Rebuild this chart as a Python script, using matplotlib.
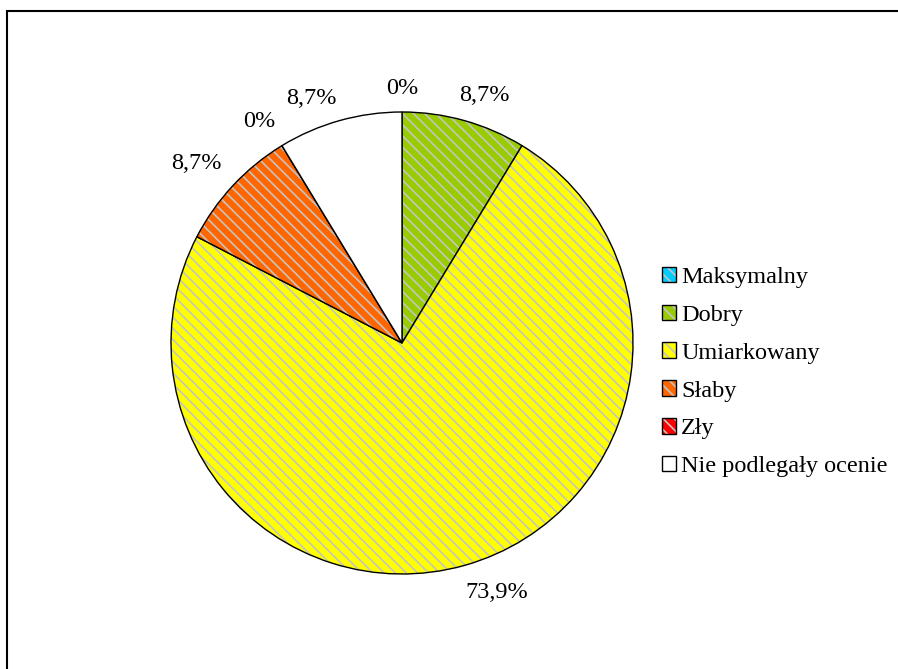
import matplotlib.pyplot as plt
from matplotlib.patches import Rectangle
import matplotlib.colors as mcolors
import numpy as np

plt.rcParams['font.family'] = ['Liberation Serif', 'DejaVu Serif']
plt.rcParams['hatch.linewidth'] = 1.2

#%% Dane
kategorie = ['Maksymalny', 'Dobry', 'Umiarkowany', 'Słaby', 'Zły', 'Nie podlegały ocenie']
liczby = [0, 2, 17, 2, 0, 2]
etykiety = ['0%', '8,7%', '73,9%', '8,7%', '0%', '8,7%']
kolory = ['#00CCFF', '#99CC00', '#FFFF00', '#FF6600', '#FF0000', '#FFFFFF']
kreskowanie = [True, True, True, True, True, False]

# pozycje etykiet (kat w stopniach, odleglosc w promieniach)
pos_etykiet = [(90, 1.10), (71.5, 1.13), (-69.2, 1.156), (138.9, 1.18), (122.9, 1.14), (110.3, 1.13)]

#%% Wykres
fig = plt.figure(figsize=(8.98, 6.69), dpi=100)
W, H = 898, 669
cx, cy, r = 402, 343, 231
ax = fig.add_axes([(cx - r) / W, (H - cy - r) / H, 2 * r / W, 2 * r / H])

wedges, _ = ax.pie(liczby, colors=kolory, startangle=90, counterclock=False,
                   radius=1, wedgeprops=dict(edgecolor='black', linewidth=1.0))
for w, h in zip(wedges, kreskowanie):
    if h:
        w.set_hatch('\\' * 3)
        w._hatch_color = mcolors.to_rgba('#c4c4c4')

for lab, (ang, d) in zip(etykiety, pos_etykiet):
    a = np.deg2rad(ang)
    ax.text(d * np.cos(a), d * np.sin(a), lab, ha='center', va='center', fontsize=17.5)

ax.set_xlim(-1, 1)
ax.set_ylim(-1, 1)
ax.set_aspect('equal')
ax.axis('off')

leg = fig.legend(wedges, kategorie, loc='center left', bbox_to_anchor=(652 / W, 1 - 372 / H),
                 frameon=False, fontsize=17.5, handlelength=0.6, handleheight=0.6,
                 handletextpad=0.2, labelspacing=0.68, borderaxespad=0)

fig.add_artist(Rectangle((7 / W, -0.1), 2, (H - 11) / H + 0.1, transform=fig.transFigure,
                         fill=False, edgecolor='black', linewidth=1.5))

fig.savefig('out.png', dpi=100)
